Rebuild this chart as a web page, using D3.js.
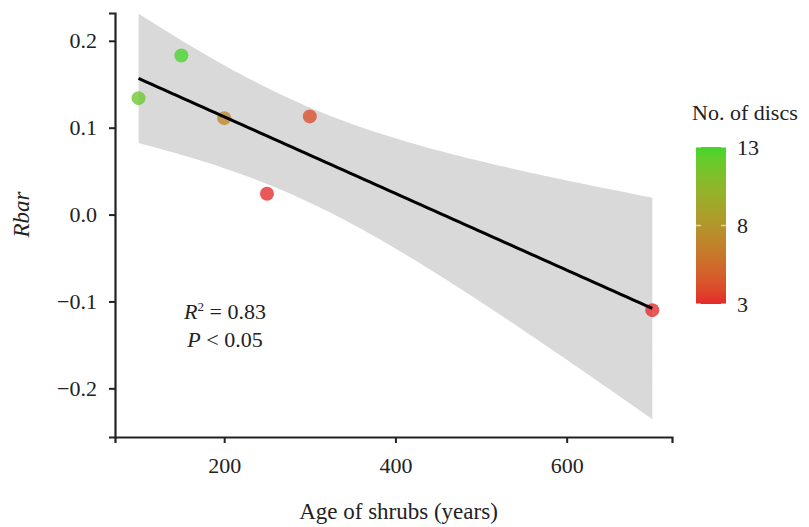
<!DOCTYPE html>
<html>
<head>
<meta charset="utf-8">
<script src="https://cdn.jsdelivr.net/npm/d3@7"></script>
<style>
  body { margin: 0; background: #fff; }
</style>
</head>
<body>
<div id="chart"></div>
<script>
const ages = [100, 150, 200, 250, 300, 700];
const rbar = [0.134, 0.183, 0.111, 0.024, 0.113, -0.110];
const discs = [12, 13, 7, 3, 4, 3];
const xTicks = [200, 400, 600];
const yTicks = [-0.2, -0.1, 0.0, 0.1, 0.2];
const legendTicks = [3, 8, 13];

const serif = 'Liberation Serif';
const width = 809, height = 527;
const margin = {top: 13, right: 137, bottom: 90, left: 115};

const svg = d3.select('#chart').append('svg')
  .attr('width', width)
  .attr('height', height)
  .attr('font-family', serif);

const x = d3.scaleLinear().domain([72.5, 723]).range([margin.left, width - margin.right]);
const y = d3.scaleLinear().domain([-0.256, 0.232]).range([height - margin.bottom, margin.top]);
const color = d3.scaleLinear().domain([3, 13]).range(['#e32a2a', '#46d52b']).interpolate(d3.interpolateLab);

// linear fit + 95% confidence band
const n = ages.length;
const mx = d3.mean(ages), my = d3.mean(rbar);
const sxx = d3.sum(ages, a => (a - mx) ** 2);
const slope = d3.sum(ages, (a, i) => (a - mx) * (rbar[i] - my)) / sxx;
const icpt = my - slope * mx;
const s = Math.sqrt(d3.sum(ages, (a, i) => (rbar[i] - icpt - slope * a) ** 2) / (n - 2));
const t = 2.776; // t(0.975, df = 4)
const grid = d3.range(0, 81).map(k => d3.min(ages) + k * (d3.max(ages) - d3.min(ages)) / 80);
const band = grid.map(a => {
  const fit = icpt + slope * a;
  const se = s * Math.sqrt(1 / n + (a - mx) ** 2 / sxx);
  return {a, fit, lo: fit - t * se, hi: fit + t * se};
});

svg.append('path')
  .datum(band)
  .attr('fill', '#d9d9d9')
  .attr('d', d3.area().x(d => x(d.a)).y0(d => y(d.lo)).y1(d => y(d.hi)));

svg.append('g')
  .selectAll('circle')
  .data(ages)
  .join('circle')
    .attr('cx', d => x(d))
    .attr('cy', (d, i) => y(rbar[i]))
    .attr('r', 7)
    .attr('fill', (d, i) => color(discs[i]))
    .attr('opacity', 0.78);

svg.append('path')
  .datum(band)
  .attr('fill', 'none')
  .attr('stroke', '#000')
  .attr('stroke-width', 3)
  .attr('d', d3.line().x(d => x(d.a)).y(d => y(d.fit)));

// axes
const xAxis = svg.append('g')
  .attr('transform', `translate(0,${height - margin.bottom})`)
  .call(d3.axisBottom(x).tickValues(xTicks).tickSize(6).tickPadding(12));
const yAxis = svg.append('g')
  .attr('transform', `translate(${margin.left},0)`)
  .call(d3.axisLeft(y).tickValues(yTicks).tickSize(6).tickPadding(12)
    .tickFormat(d => d3.format('.1f')(d).replace('-', '\u2212')));

[xAxis, yAxis].forEach(g => {
  g.attr('font-family', serif).attr('font-size', 22);
  g.select('.domain').attr('stroke', '#222').attr('stroke-width', 2.2);
  g.selectAll('.tick line').attr('stroke', '#222').attr('stroke-width', 2);
  g.selectAll('.tick text').attr('fill', '#222');
});
xAxis.selectAll('.tick text').attr('dy', '0.8em');

svg.append('text')
  .attr('x', (margin.left + width - margin.right) / 2 + 5)
  .attr('y', 519)
  .attr('text-anchor', 'middle')
  .attr('font-size', 23)
  .attr('fill', '#222')
  .text('Age of shrubs (years)');

svg.append('text')
  .attr('transform', `translate(29,${y(0)}) rotate(-90)`)
  .attr('text-anchor', 'middle')
  .attr('font-size', 23)
  .attr('font-style', 'italic')
  .attr('fill', '#222')
  .text('Rbar');

// annotation
const note = svg.append('text').attr('text-anchor', 'middle').attr('font-size', 22).attr('fill', '#222');
const l1 = note.append('tspan').attr('x', 225).attr('y', 319);
l1.append('tspan').attr('font-style', 'italic').text('R');
l1.append('tspan').attr('font-size', 13).attr('dy', -8).text('2');
l1.append('tspan').attr('dy', 8).text(' = 0.83');
const l2 = note.append('tspan').attr('x', 225).attr('y', 347);
l2.append('tspan').attr('font-style', 'italic').text('P');
l2.append('tspan').text(' < 0.05');

// colour bar legend
const lg = {x: 696, y0: 147, y1: 304, w: 30};
const ly = d3.scaleLinear().domain([3, 13]).range([lg.y1, lg.y0]);
const defs = svg.append('defs');
const grad = defs.append('linearGradient').attr('id', 'cb')
  .attr('x1', 0).attr('y1', 1).attr('x2', 0).attr('y2', 0);
d3.range(0, 11).forEach(k => {
  grad.append('stop').attr('offset', k / 10).attr('stop-color', color(3 + k));
});
svg.append('rect')
  .attr('x', lg.x).attr('y', lg.y0)
  .attr('width', lg.w).attr('height', lg.y1 - lg.y0)
  .attr('fill', 'url(#cb)');
const lt = svg.append('g').selectAll('g').data(legendTicks).join('g');
lt.append('line')
  .attr('x1', lg.x).attr('x2', lg.x + 5)
  .attr('y1', d => ly(d)).attr('y2', d => ly(d))
  .attr('stroke', '#fff').attr('stroke-opacity', 0.6).attr('stroke-width', 1.5);
lt.append('line')
  .attr('x1', lg.x + lg.w - 5).attr('x2', lg.x + lg.w)
  .attr('y1', d => ly(d)).attr('y2', d => ly(d))
  .attr('stroke', '#fff').attr('stroke-opacity', 0.6).attr('stroke-width', 1.5);
lt.append('text')
  .attr('x', lg.x + lg.w + 11)
  .attr('y', d => ly(d))
  .attr('dy', '0.35em')
  .attr('font-size', 22)
  .attr('fill', '#222')
  .text(d => d);

svg.append('text')
  .attr('x', 692).attr('y', 120)
  .attr('font-size', 22)
  .attr('fill', '#222')
  .text('No. of discs');
</script>
</body>
</html>
